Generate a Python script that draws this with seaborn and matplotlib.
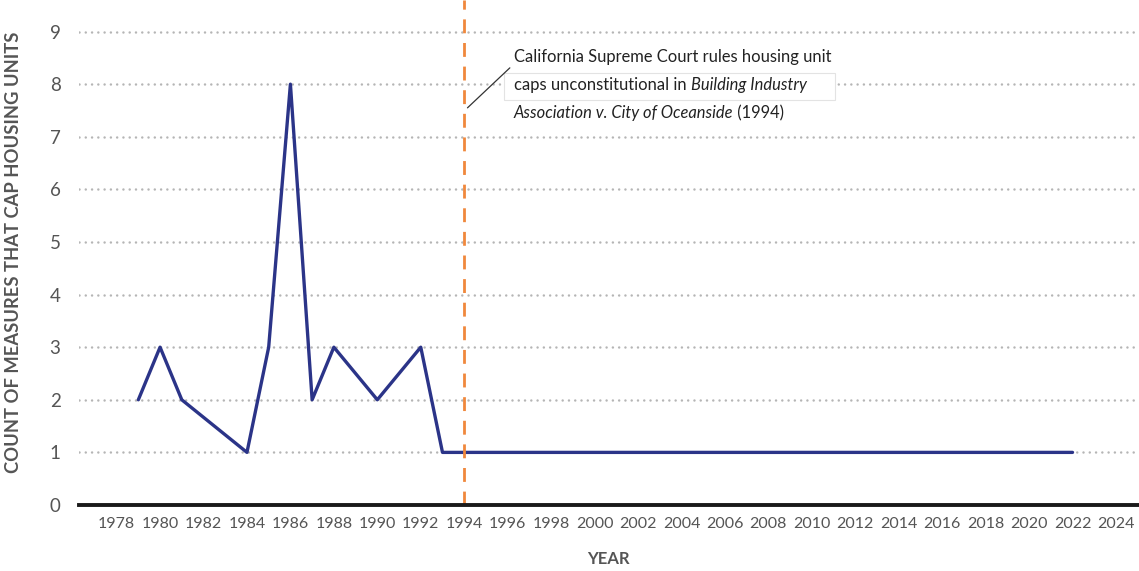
import numpy as np
import pandas as pd
import matplotlib
matplotlib.use("Agg")
import matplotlib.pyplot as plt
from matplotlib.patches import Rectangle
import seaborn as sns

# values
years = [1979, 1980, 1981, 1984, 1985, 1986, 1987, 1988, 1990, 1992, 1993, 2022]
counts = [2, 3, 2, 1, 3, 8, 2, 3, 2, 3, 1, 1]
year_ticks = list(range(1978, 2025, 2))
count_ticks = list(range(0, 10))
ruling_year = 1994

line_color = "#2b3488"
orange = "#f0883c"
text_gray = "#555555"

df = pd.DataFrame({"year": years, "count": counts})

sns.set_style("white")
plt.rcParams["font.family"] = ["Lato", "DejaVu Sans"]

fig = plt.figure(figsize=(11.39, 5.71), dpi=100)
ax = fig.add_axes([0.069, 0.1156, 0.931, 0.8844])

sns.lineplot(data=df, x="year", y="count", ax=ax, color=line_color, linewidth=2.4)

ax.set_xlim(1976.25, 2025.06)
ax.set_ylim(0, 9.6)

# dotted gridlines
for v in count_ticks[1:]:
    ax.axhline(v, color="#b5b5b5", linewidth=1.8, linestyle=(0, (0.01, 2.5)),
               dash_capstyle="round", zorder=0)

for s in ["top", "right", "left"]:
    ax.spines[s].set_visible(False)
ax.spines["bottom"].set_linewidth(2.8)
ax.spines["bottom"].set_color("#1a1a1a")

ax.set_xticks(year_ticks)
ax.set_yticks(count_ticks)
ax.tick_params(axis="both", length=0, labelcolor=text_gray, labelsize=11.5)
ax.tick_params(axis="x", pad=9)
ax.tick_params(axis="y", pad=13)
for lab in ax.get_yticklabels():
    lab.set_fontsize(13.5)

ax.set_xlabel("YEAR", fontsize=12, fontweight="bold", color=text_gray, labelpad=14)
ax.set_ylabel("COUNT OF MEASURES THAT CAP HOUSING UNITS", fontsize=13.2,
              fontweight="bold", color=text_gray, labelpad=20)

# court ruling marker
ax.axvline(ruling_year, color=orange, linewidth=2, linestyle=(0, (5, 3.5)), ymax=1.0)

# annotation
ax.add_patch(Rectangle((1995.85, 7.70), 15.2, 0.51, facecolor="white",
                       edgecolor="#e3e3e3", linewidth=0.8, zorder=3))
ax.plot([1994.15, 1996.1], [7.55, 8.31], color="#333333", linewidth=0.9, zorder=4)

fs = 11.9
tx = 1996.28
ax.text(tx, 8.52, "California Supreme Court rules housing unit", fontsize=fs,
        color="#222222", va="center", zorder=5)
t2 = ax.text(tx, 7.98, "caps unconstitutional in ", fontsize=fs, color="#222222",
             va="center", zorder=5)
ax.annotate("Building Industry", xy=(1, 0), xycoords=t2, va="bottom", ha="left",
            fontsize=fs, style="italic", color="#222222", zorder=5)
t3 = ax.text(tx, 7.45, "Association v. City of Oceanside", fontsize=fs,
             style="italic", color="#222222", va="center", zorder=5)
ax.annotate(" (1994)", xy=(1, 0), xycoords=t3, va="bottom", ha="left",
            fontsize=fs, color="#222222", zorder=5)

fig.savefig("out.png", dpi=100)
